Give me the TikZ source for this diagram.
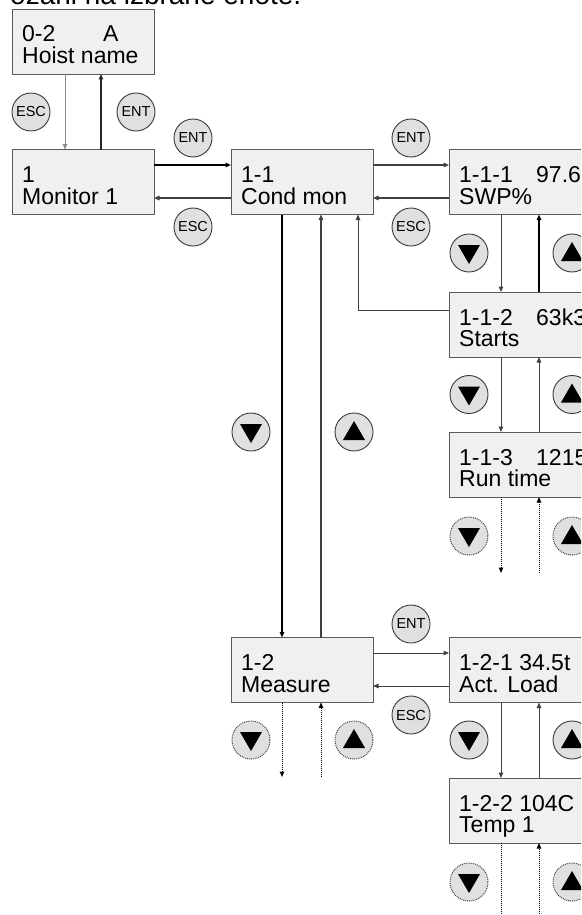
\documentclass[tikz,border=0pt]{standalone}
\usepackage{fontspec}
\setmainfont{Liberation Sans}
\usetikzlibrary{arrows.meta}
\definecolor{boxfill}{HTML}{F0F0F0}
\definecolor{boxline}{HTML}{5A5A5A}
\definecolor{btnfill}{HTML}{E0E0E0}
\definecolor{btnline}{HTML}{3A3A3A}
\definecolor{lgray}{HTML}{8A8A8A}
\definecolor{dgray}{HTML}{404040}
\tikzset{
  menubox/.style={draw=boxline, fill=boxfill, line width=0.9pt, rectangle,
    minimum width=142pt, minimum height=65pt, inner sep=0pt, outer sep=0pt},
  txt/.style={anchor=base west, inner sep=0pt, font=\fontsize{23}{21.5}\selectfont},
  btn/.style={draw=btnline, fill=btnfill, line width=0.9pt, circle,
    minimum size=38pt, inner sep=0pt, font=\fontsize{14.5}{15}\selectfont},
  dbtn/.style={btn, densely dotted, line width=1pt},
  arr/.style={-{Triangle[length=5.5pt,width=4.5pt]}},
  conn/.style={arr, draw=dgray, line width=1pt},
  thickconn/.style={arr, draw=black, line width=1.9pt},
  dconn/.style={arr, draw=black, line width=1pt, densely dotted},
}
\newcommand{\dntri}[1]{\fill[black] ([shift={(-11,-8)}]#1.center) -- ([shift={(11,-8)}]#1.center) -- ([shift={(0,11)}]#1.center) -- cycle;}
\newcommand{\uptri}[1]{\fill[black] ([shift={(-11,8)}]#1.center) -- ([shift={(11,8)}]#1.center) -- ([shift={(0,-11)}]#1.center) -- cycle;}
\begin{document}
\begin{tikzpicture}[x=1pt,y=-1pt]
\useasboundingbox (0,0) rectangle (581,915);
\clip (0,0) rectangle (581,915);
\fill[white] (0,0) rectangle (581,915);

% title (cut off at top)
\node[anchor=base west, inner sep=0pt, font=\fontsize{28}{30}\selectfont] (title) at (10,4.5) {ozani na izbrane enote.};

% helper coordinates
\coordinate (x65) at (65,0);
\coordinate (x101) at (101,0);
\coordinate (x282) at (282,0);
\coordinate (x321) at (321,0);
\coordinate (x358) at (358,0);
\coordinate (x501) at (501,0);
\coordinate (x539) at (539,0);
\coordinate (y165) at (0,165);
\coordinate (y198) at (0,198);
\coordinate (y310) at (0,310);
\coordinate (y653) at (0,653);
\coordinate (y686) at (0,686);
\coordinate (e113d) at (501,573);
\coordinate (e113u) at (539,573);
\coordinate (e12d) at (282,777);
\coordinate (e12u) at (321,777);
\coordinate (e122d) at (501,930);
\coordinate (e122u) at (539,930);

% boxes
\node[menubox] (b02) at (83,41.5) {};
\node[menubox] (b1) at (83,182) {};
\node[menubox] (b11) at (302,182) {};
\node[menubox] (b111) at (520,182) {};
\node[menubox] (b112) at (520,324.5) {};
\node[menubox] (b113) at (520,464.5) {};
\node[menubox] (b12) at (302,670) {};
\node[menubox] (b121) at (520,670) {};
\node[menubox] (b122) at (520,810.5) {};

% box texts
\node[txt] (t02a) at ([shift={(10,33)}]b02.north west) {0-2};
\node[txt] (t02v) at ([shift={(91,33)}]b02.north west) {A};
\node[txt] (t02b) at ([shift={(10,54.5)}]b02.north west) {Hoist name};
\node[txt] (t1a) at ([shift={(10,33)}]b1.north west) {1};
\node[txt] (t1b) at ([shift={(10,54.5)}]b1.north west) {Monitor 1};
\node[txt] (t11a) at ([shift={(10,33)}]b11.north west) {1-1};
\node[txt] (t11b) at ([shift={(10,54.5)}]b11.north west) {Cond mon};
\node[txt] (t111a) at ([shift={(10,33)}]b111.north west) {1-1-1};
\node[txt] (t111v) at ([shift={(87,33)}]b111.north west) {97.6};
\node[txt] (t111b) at ([shift={(10,54.5)}]b111.north west) {SWP\%};
\node[txt] (t112a) at ([shift={(10,33)}]b112.north west) {1-1-2};
\node[txt] (t112v) at ([shift={(87,33)}]b112.north west) {63k3};
\node[txt] (t112b) at ([shift={(10,54.5)}]b112.north west) {Starts};
\node[txt] (t113a) at ([shift={(10,33)}]b113.north west) {1-1-3};
\node[txt] (t113v) at ([shift={(87,33)}]b113.north west) {1215};
\node[txt] (t113b) at ([shift={(10,54.5)}]b113.north west) {Run time};
\node[txt] (t12a) at ([shift={(10,33)}]b12.north west) {1-2};
\node[txt] (t12b) at ([shift={(10,54.5)}]b12.north west) {Measure};
\node[txt] (t121a) at ([shift={(10,33)}]b121.north west) {1-2-1 34.5t};
\node[txt] (t121b) at ([shift={(10,54.5)}]b121.north west) {Act. Load};
\node[txt] (t122a) at ([shift={(10,33)}]b122.north west) {1-2-2 104C};
\node[txt] (t122b) at ([shift={(10,54.5)}]b122.north west) {Temp 1};

% buttons
\node[btn] (esc0) at (31,112) {ESC};
\node[btn] (ent0) at (136,112) {ENT};
\node[btn] (ent1) at (193,138) {ENT};
\node[btn] (esc1) at (193,227) {ESC};
\node[btn] (ent2) at (411,138) {ENT};
\node[btn] (esc2) at (411,227) {ESC};
\node[btn] (ent3) at (411,624) {ENT};
\node[btn] (esc3) at (411,715) {ESC};
\node[btn] (dn111) at (469,253) {}; \dntri{dn111}
\node[btn] (up111) at (572,253) {}; \uptri{up111}
\node[btn] (dn112) at (469,394.5) {}; \dntri{dn112}
\node[btn] (up112) at (572,394.5) {}; \uptri{up112}
\node[btn] (dnM) at (251,432) {}; \dntri{dnM}
\node[btn] (upM) at (354,432) {}; \uptri{upM}
\node[dbtn] (dn113) at (469,536) {}; \dntri{dn113}
\node[dbtn] (up113) at (572,536) {}; \uptri{up113}
\node[dbtn] (dn12) at (251,740) {}; \dntri{dn12}
\node[dbtn] (up12) at (354,740) {}; \uptri{up12}
\node[btn] (dn121) at (469,740) {}; \dntri{dn121}
\node[btn] (up121) at (572,740) {}; \uptri{up121}
\node[dbtn] (dn122) at (469,882) {}; \dntri{dn122}
\node[dbtn] (up122) at (572,882) {}; \uptri{up122}

% connectors
\draw[arr, draw=lgray, line width=0.9pt] (b02.south -| x65) -- (b1.north -| x65);
\draw[conn, line width=1.2pt, draw=black!85] (b1.north -| x101) -- (b02.south -| x101);
\draw[thickconn] (b1.east |- y165) -- (b11.west |- y165);
\draw[conn, line width=1.3pt] (b11.west |- y198) -- (b1.east |- y198);
\draw[conn, line width=1.2pt] (b11.east |- y165) -- (b111.west |- y165);
\draw[conn, line width=1.2pt] (b111.west |- y198) -- (b11.east |- y198);
\draw[conn] (b111.south -| x501) -- (b112.north -| x501);
\draw[conn, line width=1.4pt, draw=black] (b112.north -| x539) -- (b111.south -| x539);
\draw[conn] (b112.south -| x501) -- (b113.north -| x501);
\draw[conn] (b113.north -| x539) -- (b112.south -| x539);
\draw[conn] (b112.west |- y310) -| (b11.south -| x358);
\draw[dconn] (b113.south -| x501) -- (e113d);
\draw[dconn] (e113u) -- (b113.south -| x539);
\draw[thickconn] (b11.south -| x282) -- (b12.north -| x282);
\draw[conn, line width=1.1pt] (b12.north -| x321) -- (b11.south -| x321);
\draw[conn] (b12.east |- y653) -- (b121.west |- y653);
\draw[conn] (b121.west |- y686) -- (b12.east |- y686);
\draw[dconn] (b12.south -| x282) -- (e12d);
\draw[dconn] (e12u) -- (b12.south -| x321);
\draw[conn] (b121.south -| x501) -- (b122.north -| x501);
\draw[conn] (b122.north -| x539) -- (b121.south -| x539);
\draw[dconn] (b122.south -| x501) -- (e122d);
\draw[dconn] (e122u) -- (b122.south -| x539);
\end{tikzpicture}
\end{document}
